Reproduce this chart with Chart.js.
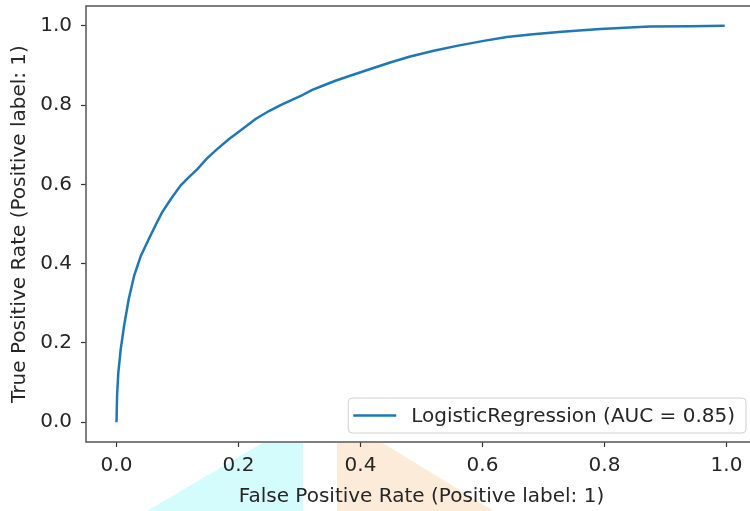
<!DOCTYPE html>
<html>
<head>
<meta charset="utf-8">
<script src="https://cdn.jsdelivr.net/npm/chart.js@4/dist/chart.umd.min.js"></script>
<style>
  html, body { margin:0; padding:0; background:#fff; overflow:hidden; }
  #wrap { position:relative; width:750px; height:511px; overflow:hidden; }
  .tri { position:absolute; }
  #triCyan { left:147px; top:443px; width:156px; height:68px; background:#d4fcfc;
    clip-path: polygon(0 100%, 74% 0, 100% 0, 100% 100%); }
  #triPeach { left:337px; top:443px; width:157px; height:68px; background:#fdebd9;
    clip-path: polygon(0 0, 29% 0, 100% 100%, 0 100%); }
  canvas { position:absolute; left:0; top:0; }
</style>
</head>
<body>
<div id="wrap">
  <div class="tri" id="triCyan"></div>
  <div class="tri" id="triPeach"></div>
  <canvas id="roc" width="757" height="511"></canvas>
</div>
<script>
// ROC curve points
const fpr = [0.000, 0.001, 0.003, 0.007, 0.0125, 0.020, 0.029, 0.040, 0.053, 0.065, 0.075, 0.090, 0.105, 0.120, 0.133, 0.148, 0.165, 0.185, 0.200, 0.228, 0.250, 0.269, 0.302, 0.320, 0.340, 0.360, 0.383, 0.410, 0.450, 0.480, 0.520, 0.560, 0.602, 0.640, 0.683, 0.730, 0.793, 0.874, 0.940, 0.997];
const tpr = [0.000, 0.070, 0.125, 0.185, 0.244, 0.310, 0.370, 0.420, 0.462, 0.500, 0.530, 0.565, 0.597, 0.620, 0.639, 0.665, 0.689, 0.715, 0.732, 0.765, 0.785, 0.800, 0.823, 0.838, 0.850, 0.862, 0.874, 0.888, 0.908, 0.922, 0.937, 0.950, 0.962, 0.972, 0.979, 0.985, 0.992, 0.998, 0.999, 1.000];
const xTicks = [0.0, 0.2, 0.4, 0.6, 0.8, 1.0];
const yTicks = [0.0, 0.2, 0.4, 0.6, 0.8, 1.0];
const seriesLabel = 'LogisticRegression (AUC = 0.85)';

const FONT = 'DejaVu Sans';
const FS = 20;
const TXT = '#262626';

// frame around the plot area (matplotlib spines)
const framePlugin = {
  id: 'frame',
  afterDatasetsDraw(chart){
    const {ctx, chartArea:a} = chart;
    ctx.save();
    ctx.strokeStyle = '#555';
    ctx.lineWidth = 1.5;
    ctx.strokeRect(a.left, a.top, a.right - a.left, a.bottom - a.top);
    ctx.restore();
  }
};

// matplotlib style legend, lower right inside the axes
const legendPlugin = {
  id: 'mplLegend',
  afterDraw(chart){
    const {ctx, chartArea:a} = chart;
    const ds = chart.data.datasets[0];
    ctx.save();
    ctx.font = FS + 'px "' + FONT + '"';
    const tw = ctx.measureText(ds.label).width;
    const h = 35, w = 5 + 43 + 15 + tw + 11;
    const x = 750 - 4 - w, y = a.bottom - 9 - h;
    ctx.beginPath();
    ctx.roundRect(x, y, w, h, 4);
    ctx.fillStyle = 'rgba(255,255,255,0.8)';
    ctx.fill();
    ctx.strokeStyle = '#d0d0d0';
    ctx.lineWidth = 1;
    ctx.stroke();
    ctx.beginPath();
    ctx.moveTo(x + 5, y + h/2);
    ctx.lineTo(x + 48, y + h/2);
    ctx.strokeStyle = ds.borderColor;
    ctx.lineWidth = 2.5;
    ctx.stroke();
    ctx.fillStyle = TXT;
    ctx.textBaseline = 'middle';
    ctx.fillText(ds.label, x + 63, y + h/2 + 1);
    ctx.restore();
  }
};

new Chart(document.getElementById('roc').getContext('2d'), {
  type: 'scatter',
  data: {
    datasets: [{
      label: seriesLabel,
      data: fpr.map((v, i) => ({ x: v, y: tpr[i] })),
      showLine: true,
      borderColor: '#1f77b4',
      borderWidth: 2.5,
      pointRadius: 0,
      tension: 0
    }]
  },
  options: {
    responsive: false,
    animation: false,
    layout: { padding: { top: 6, right: 0, left: 0, bottom: 0 } },
    plugins: { legend: { display: false }, tooltip: { enabled: false } },
    scales: {
      x: {
        type: 'linear', min: -0.05, max: 1.05,
        afterBuildTicks: s => { s.ticks = xTicks.map(v => ({ value: v })); },
        afterFit: s => { s.height = 69; s.paddingLeft = 0; s.paddingRight = 0; },
        grid: { drawOnChartArea: false, tickLength: 5, tickColor: '#333', tickWidth: 1.2 },
        border: { display: false },
        ticks: { color: TXT, font: { family: FONT, size: FS }, padding: 7, maxRotation: 0,
          callback: v => Number(v).toFixed(1) },
        title: { display: true, text: 'False Positive Rate (Positive label: 1)', color: TXT,
          font: { family: FONT, size: FS }, padding: { top: 0, bottom: 2 } }
      },
      y: {
        type: 'linear', min: -0.05, max: 1.05,
        afterBuildTicks: s => { s.ticks = yTicks.map(v => ({ value: v })); },
        afterFit: s => { s.width = 86; s.paddingTop = 0; s.paddingBottom = 0; },
        grid: { drawOnChartArea: false, tickLength: 5, tickColor: '#333', tickWidth: 1.2 },
        border: { display: false },
        ticks: { color: TXT, font: { family: FONT, size: FS }, padding: 9,
          callback: v => Number(v).toFixed(1) },
        title: { display: true, text: 'True Positive Rate (Positive label: 1)', color: TXT,
          font: { family: FONT, size: FS }, padding: { top: 8, bottom: 0 } }
      }
    }
  },
  plugins: [framePlugin, legendPlugin]
});
</script>
</body>
</html>
